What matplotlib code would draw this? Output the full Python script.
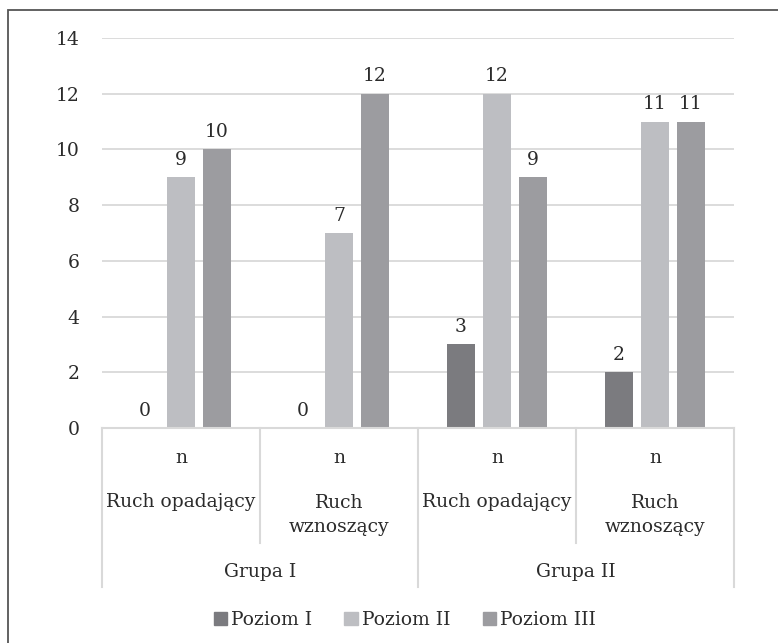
import matplotlib
matplotlib.use("Agg")
import matplotlib.pyplot as plt
import matplotlib.patches as mpatches
from matplotlib.transforms import blended_transform_factory
import numpy as np

# ---- data ----
categories = ["Ruch opadający", "Ruch\nwznoszący", "Ruch opadający", "Ruch\nwznoszący"]
groups = ["Grupa I", "Grupa II"]
sub_label = "n"
series_names = ["Poziom I", "Poziom II", "Poziom III"]
poziom_1 = [0, 0, 3, 2]
poziom_2 = [9, 7, 12, 11]
poziom_3 = [10, 12, 9, 11]
y_ticks = [0, 2, 4, 6, 8, 10, 12, 14]

colors = ["#7b7b7f", "#bdbec2", "#9c9ca0"]
text_color = "#2b2b2b"
grid_color = "#d9d9d9"
FS = 13.5

plt.rcParams['font.family'] = ['DejaVu Serif']

W, H = 778, 643
fig = plt.figure(figsize=(W / 100, H / 100), dpi=100)

def fy(py):
    return 1 - py / H

def fx(px):
    return px / W

ax_left, ax_right, ax_top, ax_bottom = 102, 734, 38, 428
ax = fig.add_axes([fx(ax_left), fy(ax_bottom), (ax_right - ax_left) / W, (ax_bottom - ax_top) / H])

x = np.arange(len(categories))
bw = 0.177
off = 0.228
series = [poziom_1, poziom_2, poziom_3]
for i, (vals, c) in enumerate(zip(series, colors)):
    pos = x + (i - 1) * off
    ax.bar(pos, vals, width=bw, color=c, zorder=3)
    for p, v in zip(pos, vals):
        ax.annotate(str(v), (p, v), xytext=(0, 6), textcoords="offset points",
                    ha="center", va="bottom", fontsize=FS, color=text_color)

ax.set_xlim(-0.5, len(categories) - 0.5)
ax.set_ylim(0, 14)
ax.set_yticks(y_ticks)
ax.set_yticklabels([str(t) for t in y_ticks], fontsize=FS, color=text_color)
ax.tick_params(axis="y", length=0, pad=16)
ax.set_xticks([])
ax.grid(axis="y", color=grid_color, linewidth=1.3, zorder=0)
for s in ax.spines.values():
    s.set_visible(False)
ax.axhline(0, color=grid_color, linewidth=1.5, zorder=4, clip_on=False)

# hierarchical category axis
tr = blended_transform_factory(ax.transData, fig.transFigure)
for xi, cat in zip(x, categories):
    ax.text(xi, fy(458), sub_label, transform=tr, ha="center", va="center",
            fontsize=FS, color=text_color)
    ax.text(xi, fy(502) if "\n" not in cat else fy(515), cat, transform=tr,
            ha="center", va="center", fontsize=FS, color=text_color,
            linespacing=1.45)

for gi, g in enumerate(groups):
    cx = 2 * gi + 0.5
    ax.text(cx, fy(572), g, transform=tr, ha="center", va="center",
            fontsize=FS, color=text_color)

# separators
for b in [-0.5, 1.5, 3.5]:
    ax.plot([b, b], [fy(428), fy(587)], transform=tr, color=grid_color,
            linewidth=1.5, clip_on=False)
for b in [0.5, 2.5]:
    ax.plot([b, b], [fy(428), fy(543)], transform=tr, color=grid_color,
            linewidth=1.5, clip_on=False)

# legend
handles = [mpatches.Patch(color=c, label=n) for c, n in zip(colors, series_names)]
leg = fig.legend(handles=handles, loc="center", bbox_to_anchor=(fx(405), fy(620)),
                 ncol=3, frameon=False, fontsize=FS, handlelength=0.7,
                 handleheight=0.7, handletextpad=0.25, columnspacing=1.7)
for t in leg.get_texts():
    t.set_color(text_color)

# outer border
border = mpatches.Rectangle((fx(8), -0.1), 1.2, fy(10) + 0.1, transform=fig.transFigure,
                            fill=False, edgecolor="#555555", linewidth=1.3)
fig.patches.append(border)

fig.savefig("out.png", dpi=100, facecolor="white")
